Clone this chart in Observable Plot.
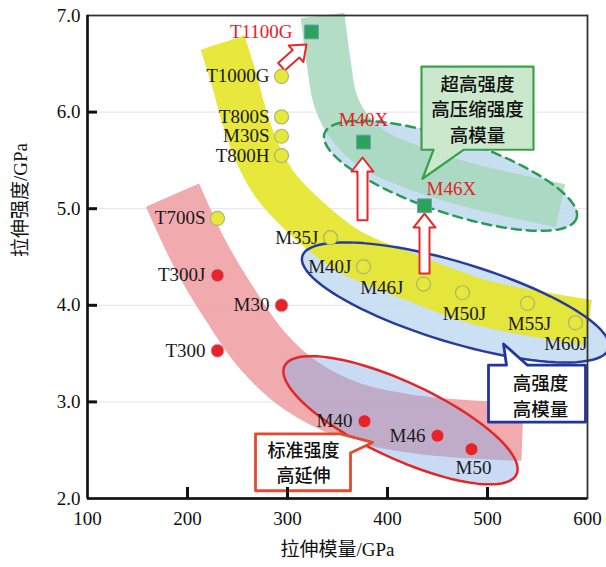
<!DOCTYPE html>
<html>
<head>
<meta charset="utf-8">
<script src="https://cdn.jsdelivr.net/npm/d3@7"></script>
<script src="https://cdn.jsdelivr.net/npm/@observablehq/plot@0.6"></script>
<style>
  html, body { margin: 0; padding: 0; background: #fff; }
</style>
</head>
<body>
<div id="chart"></div>
<script>
// ---------------- data ----------------
const yellowNames    = ["T1000G","T800S","M30S","T800H","T700S","M35J","M40J","M46J","M50J","M55J","M60J"];
const yellowModulus  = [294, 294, 294, 294, 230, 343, 376, 436, 475, 540, 588];
const yellowStrength = [6.37, 5.95, 5.75, 5.55, 4.90, 4.70, 4.40, 4.22, 4.13, 4.02, 3.82];

const redNames    = ["T300J","M30","T300","M40","M46","M50"];
const redModulus  = [230, 294, 230, 377, 450, 484];
const redStrength = [4.31, 4.00, 3.53, 2.80, 2.65, 2.51];

const greenNames    = ["T1100G","M40X","M46X"];
const greenModulus  = [324, 376, 437];
const greenStrength = [6.83, 5.69, 5.03];

const xTicks = [100, 200, 300, 400, 500, 600];
const yTicks = [2, 3, 4, 5, 6, 7];

// trend bands (centre lines, modulus / strength)
const yellowBand = [[235,6.72],[246,6.36],[258,5.91],[271,5.55],[288,5.24],[313,4.96],[360,4.57],[426,4.28],[493,4.03],[560,3.89],[601,3.82]];
const redBand    = [[185,5.14],[213,4.52],[243,4.00],[275,3.53],[313,3.17],[363,2.91],[433,2.76],[535,2.69]];
const greenBand  = [[335,7.0],[341,6.53],[348,6.12],[363,5.83],[388,5.60],[433,5.40],[483,5.24],[533,5.12],[573,5.03]];

// callouts
const greenCalloutText = "超高强度\n高压缩强度\n高模量";
const blueCalloutText  = "高强度\n高模量";
const redCalloutText   = "标准强度\n高延伸";
const greenBox = [[434,6.47],[546,6.47],[546,5.61],[476,5.61],[435,5.31],[446,5.61],[434,5.61]];
const blueBox  = [[501,3.38],[519,3.38],[516,3.60],[540,3.38],[598,3.38],[598,2.79],[501,2.79]];
const redBox   = [[268,2.67],[353,2.67],[385,2.58],[363,2.47],[363,2.08],[268,2.08]];
const calloutAnchors = { green: [490, 6.04], blue: [553, 3.07], red: [316, 2.38] };

// arrows [tail modulus, tail strength, tip modulus, tip strength]
const arrows = [[294,6.47,319,6.70],[375,4.88,375,5.53],[437,4.33,437,4.95]];

const xTitle = "拉伸模量/GPa";
const yTitle = "拉伸强度/GPa";

// ---------------- layout ----------------
const W = 606, H = 567, ML = 87, MR = 19, MT = 15, MB = 69;
const xDomain = [100, 600], yDomain = [2, 7];
const kx = (xDomain[1]-xDomain[0]) / (W - ML - MR);   // data per px
const ky = (yDomain[1]-yDomain[0]) / (H - MT - MB);

function ellipse(cx, cy, a, b, deg) {
  const th = deg * Math.PI / 180, pts = [];
  for (let i = 0; i < 96; i++) {
    const t = i / 96 * 2 * Math.PI;
    const px = a*Math.cos(t)*Math.cos(th) - b*Math.sin(t)*Math.sin(th);
    const py = a*Math.cos(t)*Math.sin(th) + b*Math.sin(t)*Math.cos(th);
    pts.push([cx + px*kx, cy - py*ky]);
  }
  return pts;
}
function arrow([x1,y1,x2,y2], sw = 5, hw = 11, hl = 14) {
  const vx = (x2-x1)/kx, vy = -(y2-y1)/ky, L = Math.hypot(vx, vy);
  const ux = vx/L, uy = vy/L, nx = -uy, ny = ux;
  const P = (s, n) => [x1 + (ux*s + nx*n)*kx, y1 - (uy*s + ny*n)*ky];
  return [P(0,sw), P(L-hl,sw), P(L-hl,hw), P(L,0), P(L-hl,-hw), P(L-hl,-sw), P(0,-sw)];
}

const greenEllipse = ellipse(463, 5.34, 133, 37, 18.6);
const blueEllipse  = ellipse(468, 4.03, 160, 40, 16.8);
const redEllipse   = ellipse(413, 2.81, 128, 38, 25);

const points = [
  ...yellowNames.map((n,i) => ({name:n, x:yellowModulus[i], y:yellowStrength[i], s:"yellow"})),
  ...redNames.map((n,i) => ({name:n, x:redModulus[i], y:redStrength[i], s:"red"})),
  ...greenNames.map((n,i) => ({name:n, x:greenModulus[i], y:greenStrength[i], s:"green"}))
];

const labelSide = {T1000G:"L",T800S:"L",M30S:"L",T800H:"L",T700S:"L",M35J:"L",M40J:"L",M46J:"L2",
  M50J:"B",M55J:"B",M60J:"BR",T300J:"L",M30:"L",T300:"L",M40:"L",M46:"L",M50:"B2",
  T1100G:"L3",M40X:"A",M46X:"AR"};
const sideOpts = {
  L:  {textAnchor:"end", dx:-12, dy:0},
  L2: {textAnchor:"end", dx:-20, dy:4},
  L3: {textAnchor:"end", dx:-19, dy:0},
  B:  {textAnchor:"middle", dx:2, dy:21},
  B2: {textAnchor:"middle", dx:2, dy:19},
  BR: {textAnchor:"end", dx:12, dy:21},
  A:  {textAnchor:"middle", dx:0, dy:-22},
  AR: {textAnchor:"start", dx:2, dy:-17}
};

const serif = "'Liberation Serif', 'Times New Roman', 'Noto Sans CJK SC', serif";
const cjk = "'Noto Sans CJK SC', 'Liberation Serif', sans-serif";

const poly = (pts, o) => Plot.line(pts, {x: d => d[0], y: d => d[1], curve: "linear-closed", ...o});
const band = (pts, o) => Plot.line(pts, {x: d => d[0], y: d => d[1], curve: "catmull-rom", strokeLinecap: "butt", strokeLinejoin: "round", ...o});

const labelMarks = Object.entries(sideOpts).map(([side, o]) =>
  Plot.text(points.filter(p => labelSide[p.name] === side), {
    x: "x", y: "y", text: "name", fontSize: 19, fontFamily: serif,
    fill: d => d.s === "green" ? "#e8202a" : "#1a1a1a", ...o
  })
);

const chart = Plot.plot({
  width: W, height: H,
  marginLeft: ML, marginRight: MR, marginTop: MT, marginBottom: MB,
  x: {domain: xDomain},
  y: {domain: yDomain},
  style: {fontFamily: serif, fontSize: "19px", background: "#fff", color: "#111"},
  marks: [
    Plot.ruleY([3,4,5,6], {stroke: "#e4e4e4", strokeWidth: 1}),
    // ellipse fills below bands
    poly(blueEllipse, {fill: "#c6ddf3", stroke: "none", fillOpacity: 0.9}),
    poly(greenEllipse, {fill: "#c2dbf1", stroke: "none", fillOpacity: 0.9}),
    // bands
    band(yellowBand, {stroke: "#e6e632", strokeWidth: 46, strokeOpacity: 0.95}),
    band(greenBand, {stroke: "#a6d8bb", strokeWidth: 44, strokeOpacity: 0.85}),
    band(redBand, {stroke: "#f0a2a6", strokeWidth: 58, strokeOpacity: 0.9}),
    poly(redEllipse, {fill: "#86aee6", stroke: "none", fillOpacity: 0.45}),
    // ellipse outlines
    poly(blueEllipse, {fill: "none", stroke: "#283c9c", strokeWidth: 2.5}),
    poly(greenEllipse, {fill: "none", stroke: "#2a9a55", strokeWidth: 2.5, strokeDasharray: "9,6"}),
    poly(redEllipse, {fill: "none", stroke: "#e02828", strokeWidth: 2.5}),
    // arrows
    ...arrows.map(a => poly(arrow(a), {fill: "#fff", stroke: "#e82828", strokeWidth: 2})),
    // points
    Plot.dot(points.filter(p => p.s === "yellow"), {x: "x", y: "y", r: 7, fill: "#e8e83c", stroke: "#a9b86a", strokeWidth: 1.2}),
    Plot.dot(points.filter(p => p.s === "red"), {x: "x", y: "y", r: 6.5, fill: "#e6232a", stroke: "#c8a8b8", strokeWidth: 1}),
    Plot.dot(points.filter(p => p.s === "green"), {x: "x", y: "y", r: 7.8, symbol: "square", fill: "#2ba35a", stroke: "#6aa0b4", strokeWidth: 1}),
    ...labelMarks,
    // callouts
    poly(greenBox, {fill: "#cbe8cc", stroke: "#3aa04a", strokeWidth: 2.2}),
    poly(blueBox, {fill: "#fff", stroke: "#2035a0", strokeWidth: 2.8}),
    poly(redBox, {fill: "#fff", stroke: "#e44a30", strokeWidth: 2.8}),
    Plot.text([greenCalloutText], {x: calloutAnchors.green[0], y: calloutAnchors.green[1], text: d => d, fontFamily: cjk, fontSize: 18.5, fontWeight: 500, lineHeight: 1.38, fill: "#111"}),
    Plot.text([blueCalloutText], {x: calloutAnchors.blue[0], y: calloutAnchors.blue[1], text: d => d, fontFamily: cjk, fontSize: 18.5, fontWeight: 500, lineHeight: 1.4, fill: "#111"}),
    Plot.text([redCalloutText], {x: calloutAnchors.red[0], y: calloutAnchors.red[1], text: d => d, fontFamily: cjk, fontSize: 18, fontWeight: 500, lineHeight: 1.4, fill: "#111"}),
    // frame + axes
    Plot.frame({stroke: "#333", strokeWidth: 1.8}),
    Plot.ruleY([yDomain[0]], {stroke: "#111", strokeWidth: 2.5}),
    Plot.ruleX([xDomain[0]], {stroke: "#111", strokeWidth: 2.5}),
    Plot.ruleX(xTicks.slice(1, -1), {x: d => d, y1: yDomain[0], y2: yDomain[0] + 11*ky, stroke: "#111", strokeWidth: 3}),
    Plot.ruleY(yTicks.slice(1, -1), {y: d => d, x1: xDomain[0], x2: xDomain[0] + 10*kx, stroke: "#111", strokeWidth: 3}),
    Plot.axisX({ticks: xTicks, tickSize: 0, tickPadding: 13, label: null, tickFormat: d => String(d), fontSize: 19, fill: "#111"}),
    Plot.axisY({ticks: yTicks, tickSize: 0, tickPadding: 7, label: null, tickFormat: d3.format(".1f"), fontSize: 19, fill: "#111"}),
    Plot.text([xTitle], {frameAnchor: "bottom", dy: 57, text: d => d, fontSize: 19, fontFamily: serif, fill: "#111"}),
    Plot.text([yTitle], {frameAnchor: "left", dx: -67, rotate: -90, text: d => d, fontSize: 19, fontFamily: serif, fill: "#111"})
  ]
});
document.getElementById("chart").appendChild(chart);
</script>
</body>
</html>
